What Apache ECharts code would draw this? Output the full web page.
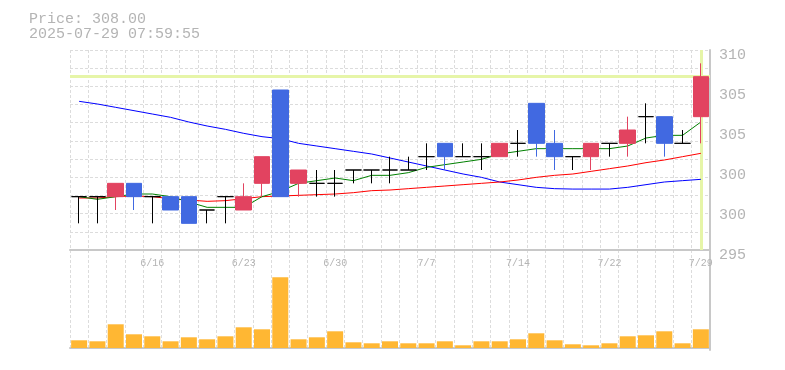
<!DOCTYPE html>
<html>
<head>
<meta charset="utf-8">
<script src="https://cdn.jsdelivr.net/npm/echarts@6/dist/echarts.min.js"></script>
<style>html,body{margin:0;padding:0;background:#fff;}#c{width:785px;height:370px;}</style>
</head>
<body>
<div id="c"></div>
<script>
const dates = ['6/10','6/11','6/12','6/13','6/16','6/17','6/18','6/19','6/20','6/23','6/24','6/25','6/26','6/27','6/30','7/1','7/2','7/3','7/4','7/7','7/8','7/9','7/10','7/11','7/14','7/15','7/16','7/17','7/18','7/22','7/23','7/24','7/25','7/28','7/29'];
const opens  = [299,299,299,300,299,299,299,298,299,298,300,307,300,300,300,301,301,301,301,302,303,302,302,302,303,306,303,302,302,303,303,305,305,303,305];
const closes = [299,299,300,299,299,298,297,298,299,299,302,299,301,300,300,301,301,301,301,302,302,302,302,303,303,303,302,302,303,303,304,305,303,303,308];
const lows   = [297,297,298,298,297,298,297,297,297,298,299,299,299,299,299,300,300,300,301,301,301,302,301,302,302,302,301,301,301,302,302,303,302,303,303];
const highs  = [299,299,300,300,299,299,299,298,299,300,302,307,301,301,301,301,301,302,302,303,303,303,303,303,304,306,304,302,303,303,305,306,305,304,309];
const ma5  = [299.0,298.8,299.0,299.2,299.2,299.0,298.6,298.2,298.2,298.2,299.0,299.4,300.0,300.2,300.4,300.2,300.6,300.6,300.8,301.2,301.4,301.6,301.8,302.2,302.4,302.6,302.6,302.6,302.6,302.6,302.8,303.4,303.6,303.6,304.6];
const ma25 = [298.9,298.9,299.0,299.05,299.0,298.85,298.75,298.65,298.7,298.85,299.0,299.05,299.1,299.15,299.2,299.3,299.45,299.5,299.6,299.7,299.8,299.9,300.0,300.1,300.25,300.45,300.6,300.7,300.9,301.1,301.3,301.55,301.75,302.0,302.25];
const ma75 = [306.15,305.95,305.7,305.45,305.2,304.95,304.6,304.3,304.05,303.75,303.5,303.35,303.0,302.8,302.6,302.4,302.2,301.9,301.6,301.3,301.0,300.7,300.45,300.1,299.9,299.7,299.6,299.57,299.57,299.57,299.7,299.9,300.1,300.2,300.3];
const volumes = [7.7,6.7,23.7,13.7,11.7,6.7,10.7,8.7,11.7,20.7,18.7,70.7,8.7,10.7,16.7,5.7,4.7,6.7,4.7,4.7,6.7,2.7,6.7,6.7,8.7,14.7,7.7,3.7,2.7,4.7,11.7,12.7,16.7,4.7,18.7];
const yTickLabels = ['295','300','300','305','305','310'];
const currentPrice = 308.00;
const timestamp = '2025-07-29 07:59:55';

const UP = '#e24360', DOWN = '#4169e1', DOJI = '#000000';
const GRID = '#dcdcdc', AXIS = '#c8c8c8', TEXT = '#b4b4b4';
const FONT = 'Liberation Mono';

const candleData = dates.map((d, i) => {
  const item = { value: [opens[i], closes[i], lows[i], highs[i]] };
  if (opens[i] === closes[i]) {
    item.itemStyle = { color: DOJI, color0: DOJI, borderColor: DOJI, borderColor0: DOJI };
  }
  return item;
});

const chart = echarts.init(document.getElementById('c'), null, { renderer: 'canvas' });
chart.setOption({
  animation: false,
  backgroundColor: '#fff',
  title: {
    text: 'Price: ' + currentPrice.toFixed(2) + '\n' + timestamp,
    left: 29, top: 12, padding: 0,
    textStyle: { fontFamily: FONT, fontSize: 15, fontWeight: 'normal', color: TEXT, lineHeight: 15 }
  },
  grid: [
    { left: 70, top: 50, width: 640, height: 200 },
    { left: 70, top: 250, width: 640, height: 100 },
    { left: 70, top: 55, width: 640, height: 200 }
  ],
  xAxis: [
    {
      type: 'category', gridIndex: 0, data: dates, boundaryGap: true,
      axisLine: { show: true, lineStyle: { color: AXIS, width: 2 } },
      axisTick: { show: false },
      axisLabel: {
        interval: (i) => i % 5 === 4,
        fontFamily: FONT, fontSize: 10, color: TEXT, margin: 8
      },
      splitLine: { show: true, interval: 0, lineStyle: { color: GRID, type: [3, 2], width: 1 } }
    },
    {
      type: 'category', gridIndex: 1, data: dates, boundaryGap: true,
      axisLine: { show: true, lineStyle: { color: AXIS, width: 2 } },
      axisTick: { show: false },
      axisLabel: { show: false },
      splitLine: { show: true, interval: 0, lineStyle: { color: GRID, type: [3, 2], width: 1 } }
    },
    {
      type: 'category', gridIndex: 2, data: dates, show: false
    }
  ],
  yAxis: [
    {
      type: 'value', gridIndex: 0, min: 295, max: 310, position: 'right',
      axisLine: { show: true, lineStyle: { color: AXIS, width: 2 } },
      axisTick: { show: false }, axisLabel: { show: false }, splitLine: { show: false }
    },
    {
      type: 'value', gridIndex: 0, min: 0, max: 11, interval: 1, position: 'left',
      axisLine: { show: false }, axisTick: { show: false }, axisLabel: { show: false },
      splitLine: { show: true, lineStyle: { color: GRID, type: [3, 2], width: 1 } }
    },
    {
      type: 'value', gridIndex: 2, min: 0, max: 5, interval: 1, position: 'right',
      axisLine: { show: false }, axisTick: { show: false }, splitLine: { show: false },
      axisLabel: {
        formatter: (v) => yTickLabels[Math.round(v)],
        fontFamily: FONT, fontSize: 15, color: TEXT, margin: 9
      }
    },
    {
      type: 'value', gridIndex: 1, min: -2, max: 98, position: 'right',
      axisLine: { show: true, lineStyle: { color: AXIS, width: 2 } },
      axisTick: { show: false }, axisLabel: { show: false }, splitLine: { show: false }
    }
  ],
  series: [
    {
      type: 'candlestick', xAxisIndex: 0, yAxisIndex: 0, data: candleData,
      barWidth: 16, z: 4,
      itemStyle: { color: UP, color0: DOWN, borderColor: UP, borderColor0: DOWN, borderWidth: 1 },
      markLine: {
        silent: true, symbol: ['none', 'none'], z: 1,
        label: { show: false },
        lineStyle: { color: '#e6f5a8', width: 3, type: 'solid' },
        data: [{ yAxis: currentPrice }, { xAxis: dates[dates.length - 1] }]
      }
    },
    { type: 'line', xAxisIndex: 0, yAxisIndex: 0, data: ma75, symbol: 'none', z: 3,
      lineStyle: { color: '#0000ff', width: 1 } },
    { type: 'line', xAxisIndex: 0, yAxisIndex: 0, data: ma25, symbol: 'none', z: 3,
      lineStyle: { color: '#ff0000', width: 1 } },
    { type: 'line', xAxisIndex: 0, yAxisIndex: 0, data: ma5, symbol: 'none', z: 3,
      lineStyle: { color: '#008000', width: 1 } },
    { type: 'bar', xAxisIndex: 1, yAxisIndex: 3, data: volumes, barWidth: 16,
      itemStyle: { color: '#ffb733' } }
  ]
});
</script>
</body>
</html>
